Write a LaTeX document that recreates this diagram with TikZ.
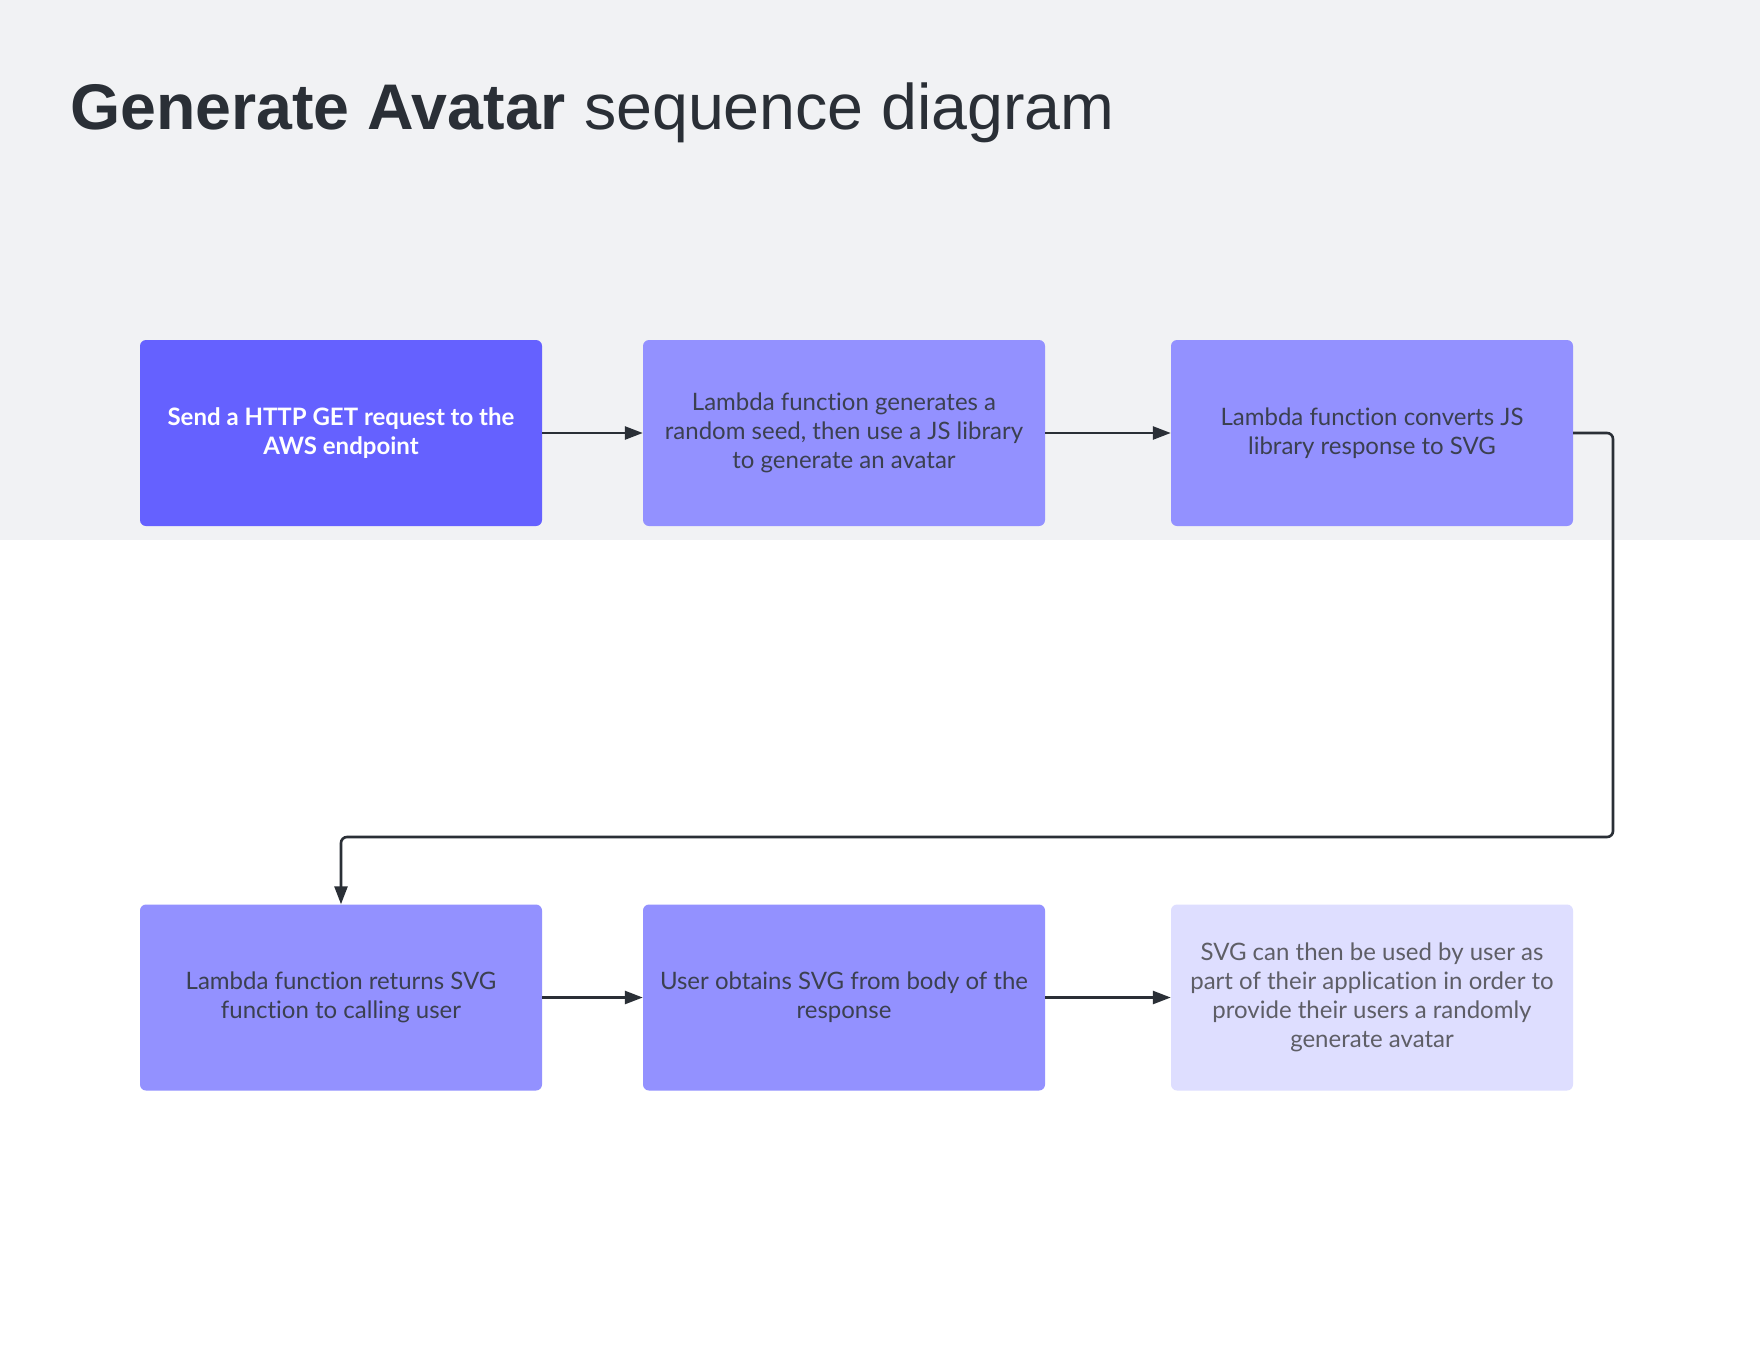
\documentclass[tikz,border=0pt]{standalone}
\usepackage{fontspec}
\setmainfont{Lato}[Ligatures=NoCommon]
\newfontfamily\titlefont{Liberation Sans}
\usetikzlibrary{arrows.meta}
\definecolor{bgband}{HTML}{F1F2F4}
\definecolor{stepdark}{HTML}{6561FF}
\definecolor{steplight}{HTML}{9391FF}
\definecolor{stepfaint}{HTML}{DEDEFF}
\definecolor{inkdark}{HTML}{2A2F36}
\definecolor{boxtext}{HTML}{3B4050}
\definecolor{fainttext}{HTML}{5E5E66}

\begin{document}
\begin{tikzpicture}[x=1pt,y=-1pt,
  stepbox/.style={rectangle,rounded corners=6pt,minimum width=402pt,minimum height=186pt,
    inner sep=0pt,align=center,font=\fontsize{24}{29}\selectfont,text=boxtext,fill=steplight},
  flow/.style={inkdark,line width=2.6pt,-{Triangle[length=18pt,width=13pt]}}]
% page and grey header band
\useasboundingbox (0,0) rectangle (1760,1360);
\fill[white] (0,0) rectangle (1760,1360);
\fill[bgband] (0,0) rectangle (1760,540);
\node[anchor=base west,inner sep=0pt,text=inkdark,font=\titlefont\fontsize{64.5}{78}\selectfont]
  (title) at (70,129) {\bfseries Generate Avatar\mdseries{} sequence diagram};
% first row
\node[stepbox,fill=stepdark,text=white,font=\bfseries\fontsize{24}{29}\selectfont] (send) at (341,433)
  {Send a HTTP GET request to the\\AWS endpoint};
\node[stepbox] (seed) at (844,433)
  {Lambda function generates a\\random seed, then use a JS library\\to generate an avatar};
\node[stepbox] (convert) at (1372,433)
  {Lambda function converts JS\\library response to SVG};
% second row
\node[stepbox] (returns) at (341,997.5)
  {Lambda function returns SVG\\function to calling user};
\node[stepbox] (obtain) at (844,997.5)
  {User obtains SVG from body of the\\response};
\node[stepbox,fill=stepfaint,text=fainttext] (use) at (1372,997.5)
  {SVG can then be used by user as\\part of their application in order to\\provide their users a randomly\\generate avatar};
% connectors
\draw[flow] (send) -- (seed);
\draw[flow] (seed) -- (convert);
\coordinate (bend) at (1613,837);
\draw[flow,rounded corners=6pt] (convert.east) -| (bend) -| (returns.north);
\draw[flow] (returns) -- (obtain);
\draw[flow] (obtain) -- (use);
\end{tikzpicture}
\end{document}
